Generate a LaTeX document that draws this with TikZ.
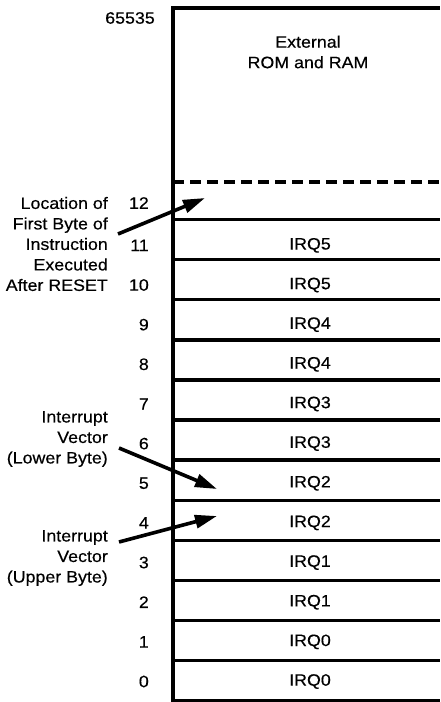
\documentclass[tikz,border=0pt]{standalone}
\usepackage{fontspec}
\setmainfont{Liberation Sans}[FakeStretch=1.08,FakeBold=0.4]
\usetikzlibrary{arrows.meta}
\begin{document}
\begin{tikzpicture}[x=1pt,y=-1pt,
  rule/.style={line width=3.4pt},
  lbl/.style={font=\fontsize{16.5}{20.5}\selectfont, inner sep=0pt},
  ptr/.style={line width=3.6pt, -{Triangle[length=22pt,width=13pt]}}]
\useasboundingbox (0,0) rectangle (440,702);
% frame
\draw[rule, line join=miter] (173,702) -- (173,8) -- (440,8);
\draw[rule, dash pattern=on 11pt off 6pt] (173,182) -- (440,182);
\foreach \j in {0,...,12}{
  \draw[rule] (173,{219.5+40.1*\j}) -- (440,{219.5+40.1*\j});
}
% texts
\node[lbl, align=center] (ext) at (308,52) {External\\ROM and RAM};
\node[lbl, anchor=east] (top) at (155,18) {65535};
\node[lbl, anchor=east] (n12) at (149,203) {12};
\foreach \k in {0,...,11}{
  \pgfmathtruncatemacro{\q}{floor(\k/2)}
  \node[lbl, anchor=east] (n\k) at (149,{681.5-39.65*\k}) {\k};
  \node[lbl] (irq\k) at (310,{681.5-39.65*\k}) {IRQ\q};
}
\node[lbl, align=right, anchor=east] (reset) at (108,244)
  {Location of\\First Byte of\\Instruction\\Executed\\After RESET};
\node[lbl, align=right, anchor=east] (lower) at (108,439)
  {Interrupt\\Vector\\(Lower Byte)};
\node[lbl, align=right, anchor=east] (upper) at (108,558)
  {Interrupt\\Vector\\(Upper Byte)};
% arrows
\coordinate (s1) at (118,234);
\coordinate (t1) at (205,198);
\coordinate (s2) at (119,448);
\coordinate (t2) at (217,489);
\coordinate (s3) at (119,542);
\coordinate (t3) at (217,516);
\draw[ptr] (s1) -- (t1);
\draw[ptr] (s2) -- (t2);
\draw[ptr] (s3) -- (t3);
\end{tikzpicture}
\end{document}
